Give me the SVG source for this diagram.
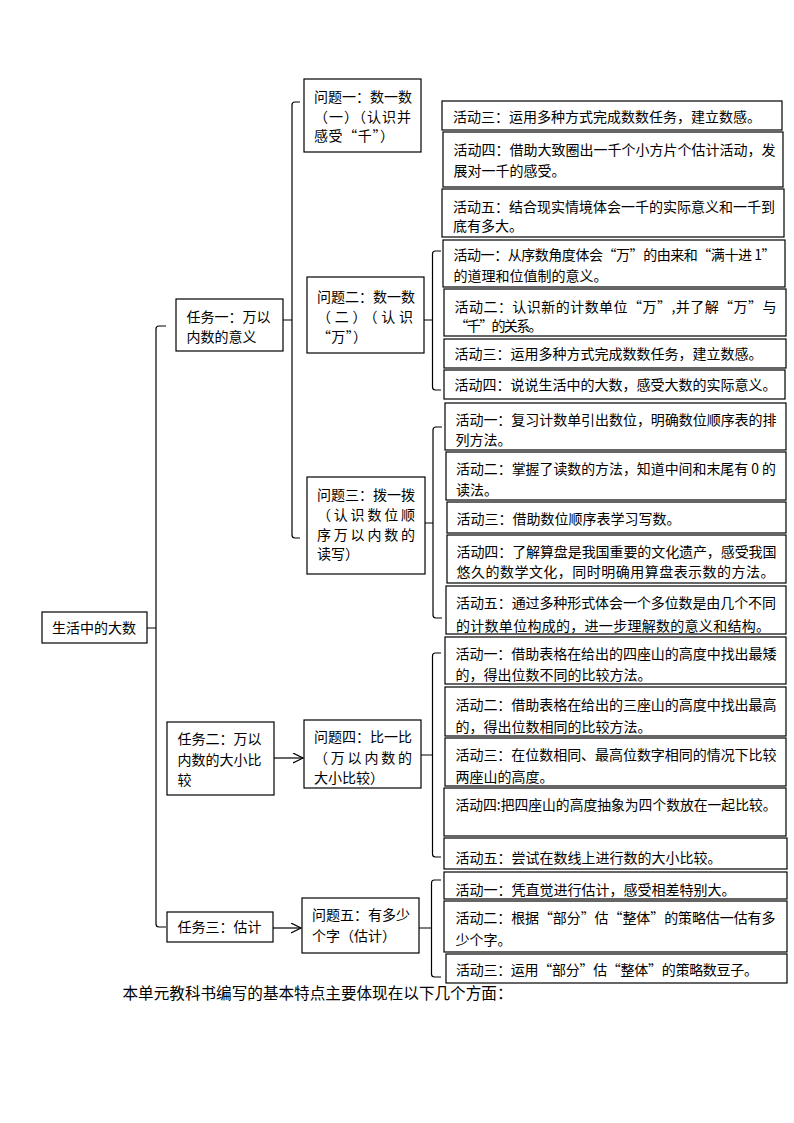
<svg xmlns="http://www.w3.org/2000/svg" width="794" height="1123" viewBox="0 0 794 1123">
<style>
.box{fill:#fff;stroke:#000;stroke-width:1.2}
.t{font-family:"Noto Sans CJK SC","Noto Sans CJK JP",sans-serif;font-size:14px;fill:#000}
.big{font-size:15.6px}
.br{fill:none;stroke:#000;stroke-width:1.2}
</style>
<defs>
<marker id="arr" markerWidth="12" markerHeight="12" refX="10" refY="5" orient="auto" markerUnits="userSpaceOnUse">
<path d="M0,0 L10,5 L0,10" fill="none" stroke="#000" stroke-width="1.2"/>
</marker>
</defs>
<rect width="794" height="1123" fill="#fff"/>

<g id="connectors">
<path class="br" d="M166,326 H159 Q156,326 156,329 V924 Q156,927 159,927 H166 M156,628 H147"/>
<path class="br" d="M300,102 H295 Q292,102 292,105 V535 Q292,538 295,538 H300 M292,320 H283"/>
<path class="br" d="M441,251 H435.5 Q432.5,251 432.5,254 V387 Q432.5,390 435.5,390 H441 M432.5,320 H424"/>
<path class="br" d="M442,427 H436 Q433,427 433,430 V615 Q433,618 436,618 H442 M433,523 H425"/>
<path class="br" d="M441,653 H435.5 Q432.5,653 432.5,656 V854 Q432.5,857 435.5,857 H441 M432.5,755 H421"/>
<path class="br" d="M441,880 H434.5 Q431.5,880 431.5,883 V974 Q431.5,977 434.5,977 H441 M431.5,928 H419"/>
<line class="br" x1="274" y1="758" x2="303" y2="758" marker-end="url(#arr)"/>
<line class="br" x1="273" y1="928" x2="301" y2="928" marker-end="url(#arr)"/>
</g>

<g id="root">
<rect class="box" x="42" y="612" width="105" height="31"/>
<text class="t" x="52" y="633">生活中的大数</text>
</g>

<g id="task1">
<rect class="box" x="176" y="299" width="107" height="52"/>
<text class="t" x="186.5" y="322">任务一：万以</text>
<text class="t" x="186.5" y="342">内数的意义</text>
</g>
<g id="task2">
<rect class="box" x="167" y="722" width="107" height="73"/>
<text class="t" x="177.5" y="744">任务二：万以</text>
<text class="t" x="177.5" y="765">内数的大小比</text>
<text class="t" x="177.5" y="785">较</text>
</g>
<g id="task3">
<rect class="box" x="167" y="912" width="106" height="30"/>
<text class="t" x="177.5" y="932">任务三：估计</text>
</g>

<g id="q1">
<rect class="box" x="304" y="79" width="117" height="73"/>
<text class="t" x="314" y="102">问题一：数一数</text>
<text class="t" x="314" y="122" textLength="97" lengthAdjust="spacing">（一）（认识并</text>
<text class="t" x="314" y="141" textLength="80" lengthAdjust="spacing">感受“千”）</text>
</g>
<g id="q2">
<rect class="box" x="307" y="277" width="117" height="76"/>
<text class="t" x="317" y="302">问题二：数一数</text>
<text class="t" x="317" y="322" textLength="96" lengthAdjust="spacing">（二）（认识</text>
<text class="t" x="317" y="342" textLength="50" lengthAdjust="spacing">“万”）</text>
</g>
<g id="q3">
<rect class="box" x="307" y="477" width="118" height="97"/>
<text class="t" x="317" y="500">问题三：拨一拨</text>
<text class="t" x="317" y="520" textLength="98" lengthAdjust="spacing">（认识数位顺</text>
<text class="t" x="317" y="539.5" textLength="98" lengthAdjust="spacing">序万以内数的</text>
<text class="t" x="317" y="559">读写）</text>
</g>
<g id="q4">
<rect class="box" x="304" y="720" width="117" height="68"/>
<text class="t" x="314" y="742">问题四：比一比</text>
<text class="t" x="314" y="763" textLength="98" lengthAdjust="spacing">（万以内数的</text>
<text class="t" x="314" y="783">大小比较）</text>
</g>
<g id="q5">
<rect class="box" x="302" y="898" width="117" height="55"/>
<text class="t" x="312" y="920">问题五：有多少</text>
<text class="t" x="312" y="941">个字（估计）</text>
</g>

<g id="q1a3">
<rect class="box" x="442" y="101" width="340" height="29"/>
<text class="t" x="453" y="122">活动三：运用多种方式完成数数任务，建立数感。</text>
</g>
<g id="q1a4">
<rect class="box" x="443" y="132" width="340" height="55"/>
<text class="t" x="453.5" y="155" textLength="322" lengthAdjust="spacing">活动四：借助大致圈出一千个小方片个估计活动，发</text>
<text class="t" x="453.5" y="176">展对一千的感受。</text>
</g>
<g id="q1a5">
<rect class="box" x="442" y="189" width="342" height="48"/>
<text class="t" x="453" y="212" textLength="322" lengthAdjust="spacing">活动五：结合现实情境体会一千的实际意义和一千到</text>
<text class="t" x="453" y="230.5">底有多大。</text>
</g>

<g id="q2a1">
<rect class="box" x="443" y="240" width="342" height="47"/>
<text class="t" x="453.5" y="259.5" textLength="322" lengthAdjust="spacing">活动一：从序数角度体会“万”的由来和“满十进 1”</text>
<text class="t" x="453.5" y="281">的道理和位值制的意义。</text>
</g>
<g id="q2a2">
<rect class="box" x="444" y="289" width="342" height="47"/>
<text class="t" x="454.5" y="312" textLength="322" lengthAdjust="spacing">活动二：认识新的计数单位“万”,并了解“万”与</text>
<text class="t" x="454.5" y="330.5" textLength="88" lengthAdjust="spacing">“千”的关系。</text>
</g>
<g id="q2a3">
<rect class="box" x="444" y="339" width="342" height="29"/>
<text class="t" x="454.5" y="358.5">活动三：运用多种方式完成数数任务，建立数感。</text>
</g>
<g id="q2a4">
<rect class="box" x="444" y="370" width="341" height="29"/>
<text class="t" x="454.5" y="390">活动四：说说生活中的大数，感受大数的实际意义。</text>
</g>

<g id="q3a1">
<rect class="box" x="445" y="403" width="341" height="47"/>
<text class="t" x="455.5" y="425" textLength="321" lengthAdjust="spacing">活动一：复习计数单引出数位，明确数位顺序表的排</text>
<text class="t" x="455.5" y="445">列方法。</text>
</g>
<g id="q3a2">
<rect class="box" x="446" y="452" width="340" height="48"/>
<text class="t" x="456" y="473.5" textLength="320" lengthAdjust="spacingAndGlyphs">活动二：掌握了读数的方法，知道中间和末尾有 0 的</text>
<text class="t" x="456" y="495">读法。</text>
</g>
<g id="q3a3">
<rect class="box" x="447" y="502" width="339" height="31"/>
<text class="t" x="456.5" y="523.5">活动三：借助数位顺序表学习写数。</text>
</g>
<g id="q3a4">
<rect class="box" x="447" y="535" width="339" height="48"/>
<text class="t" x="456.5" y="557" textLength="320" lengthAdjust="spacing">活动四：了解算盘是我国重要的文化遗产，感受我国</text>
<text class="t" x="456.5" y="577" textLength="318" lengthAdjust="spacing">悠久的数学文化，同时明确用算盘表示数的方法。</text>
</g>
<g id="q3a5">
<rect class="box" x="446" y="586" width="340" height="48"/>
<text class="t" x="456" y="608" textLength="320" lengthAdjust="spacing">活动五：通过多种形式体会一个多位数是由几个不同</text>
<text class="t" x="456" y="631" textLength="314" lengthAdjust="spacing">的计数单位构成的，进一步理解数的意义和结构。</text>
</g>

<g id="q4a1">
<rect class="box" x="445" y="637" width="341" height="47"/>
<text class="t" x="455.5" y="659" textLength="321" lengthAdjust="spacing">活动一：借助表格在给出的四座山的高度中找出最矮</text>
<text class="t" x="455.5" y="680">的，得出位数不同的比较方法。</text>
</g>
<g id="q4a2">
<rect class="box" x="445" y="687" width="341" height="49"/>
<text class="t" x="455.5" y="710" textLength="321" lengthAdjust="spacing">活动二：借助表格在给出的三座山的高度中找出最高</text>
<text class="t" x="455.5" y="731.5">的，得出位数相同的比较方法。</text>
</g>
<g id="q4a3">
<rect class="box" x="445" y="738" width="341" height="48"/>
<text class="t" x="455.5" y="760" textLength="321" lengthAdjust="spacing">活动三：在位数相同、最高位数字相同的情况下比较</text>
<text class="t" x="455.5" y="781.5">两座山的高度。</text>
</g>
<g id="q4a4">
<rect class="box" x="444" y="788" width="342" height="48"/>
<text class="t" x="455.5" y="810" textLength="321" lengthAdjust="spacingAndGlyphs">活动四:把四座山的高度抽象为四个数放在一起比较。</text>
</g>
<g id="q4a5">
<rect class="box" x="444" y="838" width="343" height="31"/>
<text class="t" x="455.5" y="863">活动五：尝试在数线上进行数的大小比较。</text>
</g>

<g id="q5a1">
<rect class="box" x="444" y="872" width="343" height="27"/>
<text class="t" x="455.5" y="894.5">活动一：凭直觉进行估计，感受相差特别大。</text>
</g>
<g id="q5a2">
<rect class="box" x="444" y="901" width="343" height="51"/>
<text class="t" x="455.5" y="923" textLength="320" lengthAdjust="spacing">活动二：根据“部分”估“整体”的策略估一估有多</text>
<text class="t" x="455.5" y="944.5">少个字。</text>
</g>
<g id="q5a3">
<rect class="box" x="446" y="954" width="341" height="29"/>
<text class="t" x="456" y="975" textLength="302" lengthAdjust="spacing">活动三：运用“部分”估“整体”的策略数豆子。</text>
</g>

<text class="t big" x="122.5" y="999" textLength="390" lengthAdjust="spacing">本单元教科书编写的基本特点主要体现在以下几个方面：</text>
</svg>
